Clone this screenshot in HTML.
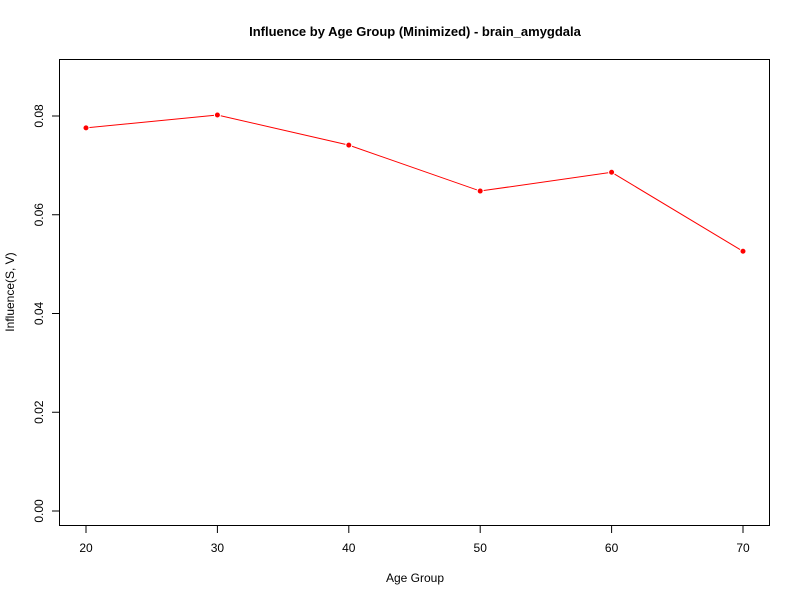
<!DOCTYPE html>
<html><head><meta charset="utf-8"><style>
body{margin:0;background:#fff}
text{font-family:"Liberation Sans",Arial,sans-serif;font-size:12px;fill:#000}
</style></head><body>
<svg id="chart" width="800" height="600">
<rect width="800" height="600" fill="#fff"/>
<text x="415" y="36" text-anchor="middle" font-weight="bold" style="font-size:13px">Influence by Age Group (Minimized) - brain_amygdala</text>
<rect x="59.5" y="59.5" width="710" height="466" fill="none" stroke="#000"/>
<text x="415" y="582" text-anchor="middle">Age Group</text>
<text transform="translate(14,292) rotate(-90)" text-anchor="middle">Influence(S, V)</text>
<g id="axes"></g>
<g id="marks"></g>
</svg>
<script>
const categories=[20,30,40,50,60,70];
const values=[0.0776,0.0802,0.0741,0.0648,0.0686,0.0526];
const yTicks=[0,0.02,0.04,0.06,0.08];
const yTickLabels=["0.00","0.02","0.04","0.06","0.08"];
const NS="http://www.w3.org/2000/svg";
function xs(v){return 86+(v-20)*(743-86)/50;}
function ys(v){return 511-v*(511-116)/0.08;}
function mk(t,a,p){const e=document.createElementNS(NS,t);for(const k in a)e.setAttribute(k,a[k]);p.appendChild(e);return e;}
const ax=document.getElementById('axes'),mg=document.getElementById('marks');
categories.forEach(c=>{
  const l=mk('line',{x1:xs(c),x2:xs(c),y1:526,y2:533,stroke:'#000'},ax);
  
  
  const t=mk('text',{x:xs(c),y:552,'text-anchor':'middle'},ax);t.textContent=c;
  
  
});
yTicks.forEach((v,i)=>{
  const l=mk('line',{x1:52,x2:59.5,y1:ys(v),y2:ys(v),stroke:'#000'},ax);
  
  
  const t=mk('text',{transform:`translate(43,${ys(v)}) rotate(-90)`,'text-anchor':'middle'},ax);t.textContent=yTickLabels[i];
  
  
});
const pl=mk('polyline',{points:categories.map((c,i)=>xs(c)+','+ys(values[i])).join(' '),fill:'none',stroke:'#f00','stroke-width':1},mg);


categories.forEach((c,i)=>{
  const p=mk('circle',{cx:xs(c),cy:ys(values[i]),r:3,fill:'#f00',stroke:'#fff','stroke-width':1},mg);
  
  
});
</script>
</body></html>
